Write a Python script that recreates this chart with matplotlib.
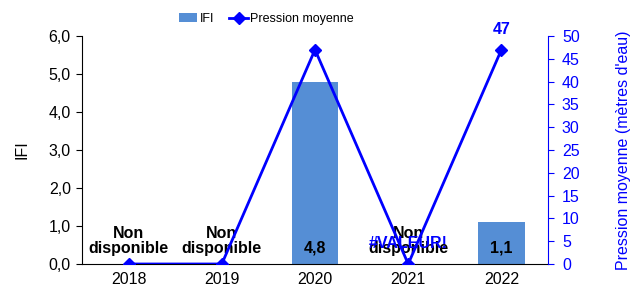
import matplotlib
matplotlib.use("Agg")
import matplotlib.pyplot as plt
import numpy as np

plt.rcParams['font.family'] = ['Liberation Sans', 'DejaVu Sans']

years = ["2018", "2019", "2020", "2021", "2022"]
ifi = [0, 0, 4.8, 0, 1.1]
ifi_labels = ["Non\ndisponible", "Non\ndisponible", "4,8", "Non\ndisponible", "1,1"]
pression = [0, 0, 47, 0, 47]
left_ticks = ["0,0", "1,0", "2,0", "3,0", "4,0", "5,0", "6,0"]

fig = plt.figure(figsize=(6.34, 2.95), dpi=100)
ax = fig.add_axes([0.1293, 0.1051, 0.7351, 0.7729])
x = np.arange(len(years))
bars = ax.bar(x, ifi, width=0.5, color="#558ed5", label="IFI", zorder=2)
ax.set_xlim(-0.5, 4.5)
ax.set_ylim(0, 6)
ax.set_yticks(np.arange(0, 7, 1))
ax.set_yticklabels(left_ticks, fontsize=11.5)
ax.set_xticks(x)
ax.set_xticklabels(years, fontsize=11.5)
ax.tick_params(axis='x', length=0, pad=6)
ax.tick_params(axis='y', direction='out', length=4, pad=4)
ax.set_ylabel("IFI", fontsize=11.5, labelpad=14)
ax.spines['top'].set_visible(False)
ax.spines['right'].set_visible(False)

for i, lab in enumerate(ifi_labels):
    if "\n" in lab:
        ax.text(x[i], 0.22, lab, ha='center', va='bottom', fontsize=11.5, fontweight='bold', linespacing=1.0, zorder=5)
    else:
        ax.text(x[i], 0.22, lab, ha='center', va='bottom', fontsize=11.5, fontweight='bold', zorder=5)

ax2 = ax.twinx()
line, = ax2.plot(x, pression, color="#0000ff", lw=2, marker='D', markersize=6.5, label="Pression moyenne", zorder=3)
ax2.set_ylim(0, 50)
ax2.set_yticks(np.arange(0, 55, 5))
ax2.tick_params(axis='y', colors="#0000ff", direction='out', length=4, pad=6, labelsize=11.5)
ax2.set_ylabel("Pression moyenne (mètres d'eau)", color="#0000ff", fontsize=11.5, labelpad=26)
ax2.spines['right'].set_color("#0000ff")
ax2.spines['top'].set_visible(False)
ax2.spines['left'].set_visible(False)
ax2.spines['bottom'].set_visible(False)

ax2.text(x[4], 49.8, "47", color="#0000ff", ha='center', va='bottom', fontsize=11.5, fontweight='bold')
ax2.text(x[3], 2.8, "#VALEUR!", color="#0000ff", ha='center', va='bottom', fontsize=11.5, fontweight='bold')

fig.legend([bars, line], ["IFI", "Pression moyenne"], loc='center', bbox_to_anchor=(0.42, 0.935),
           ncol=2, frameon=False, fontsize=9, handlelength=1.5, columnspacing=1.2, handletextpad=0.2)

fig.savefig("out.png", dpi=100)
